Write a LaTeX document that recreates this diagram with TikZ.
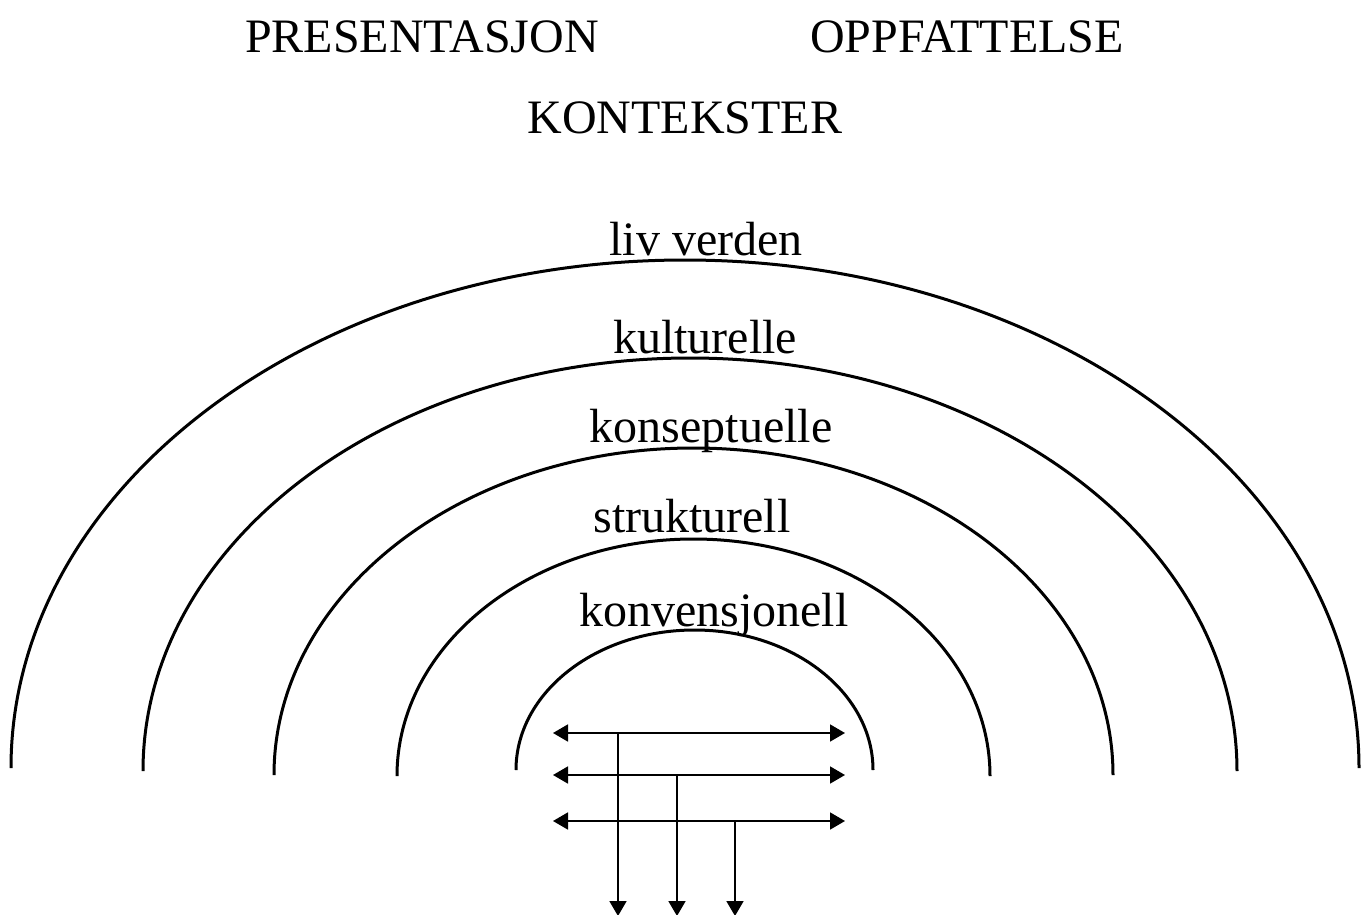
\documentclass[tikz,border=0pt]{standalone}
\usepackage{fontspec}
\setmainfont{Liberation Serif}
\usetikzlibrary{arrows.meta}
\begin{document}
\begin{tikzpicture}[x=1pt,y=-1pt,
  lbl/.style={font=\fontsize{48}{56}\selectfont, inner sep=0pt, anchor=base},
  ring/.style={line width=3pt},
  arr/.style={line width=1.8pt, -{Triangle[length=15pt,width=17pt]}},
  darr/.style={line width=1.8pt, {Triangle[length=15pt,width=17pt]}-{Triangle[length=15pt,width=17pt]}}]
\useasboundingbox (0,0) rectangle (1369,914);
\clip (0,0) rectangle (1369,914);
% titles
\node[lbl] (pres) at (422,52) {PRESENTASJON};
\node[lbl] (oppf) at (967,52) {OPPFATTELSE};
\node[lbl] (kont) at (685,133) {KONTEKSTER};
% ring labels
\node[lbl] (liv) at (706,255) {liv verden};
\node[lbl] (kult) at (705,353) {kulturelle};
\node[lbl] (kons) at (711,442) {konseptuelle};
\node[lbl] (strk) at (692,532) {strukturell};
\node[lbl] (konv) at (714,626) {konvensjonell};
% rings (half ellipses)
\draw[ring] (11,768) arc[start angle=180,end angle=360,x radius=674,y radius=508];
\draw[ring] (143,771) arc[start angle=180,end angle=360,x radius=547,y radius=413];
\draw[ring] (274,775) arc[start angle=180,end angle=360,x radius=419.5,y radius=327];
\draw[ring] (397,776) arc[start angle=180,end angle=360,x radius=296.5,y radius=237];
\draw[ring] (516,770) arc[start angle=180,end angle=360,x radius=178.5,y radius=140];
% arrows
\coordinate (l1) at (553,733);
\coordinate (r1) at (845,733);
\coordinate (l2) at (553,775);
\coordinate (r2) at (845,775);
\coordinate (l3) at (553,821);
\coordinate (r3) at (845,821);
\coordinate (t1) at (618,733);
\coordinate (t2) at (677,775);
\coordinate (t3) at (735,821);
\coordinate (b1) at (618,916);
\coordinate (b2) at (677,916);
\coordinate (b3) at (735,916);
\draw[darr] (l1) -- (r1);
\draw[darr] (l2) -- (r2);
\draw[darr] (l3) -- (r3);
\draw[arr] (t1) -- (b1);
\draw[arr] (t2) -- (b2);
\draw[arr] (t3) -- (b3);
\end{tikzpicture}
\end{document}
